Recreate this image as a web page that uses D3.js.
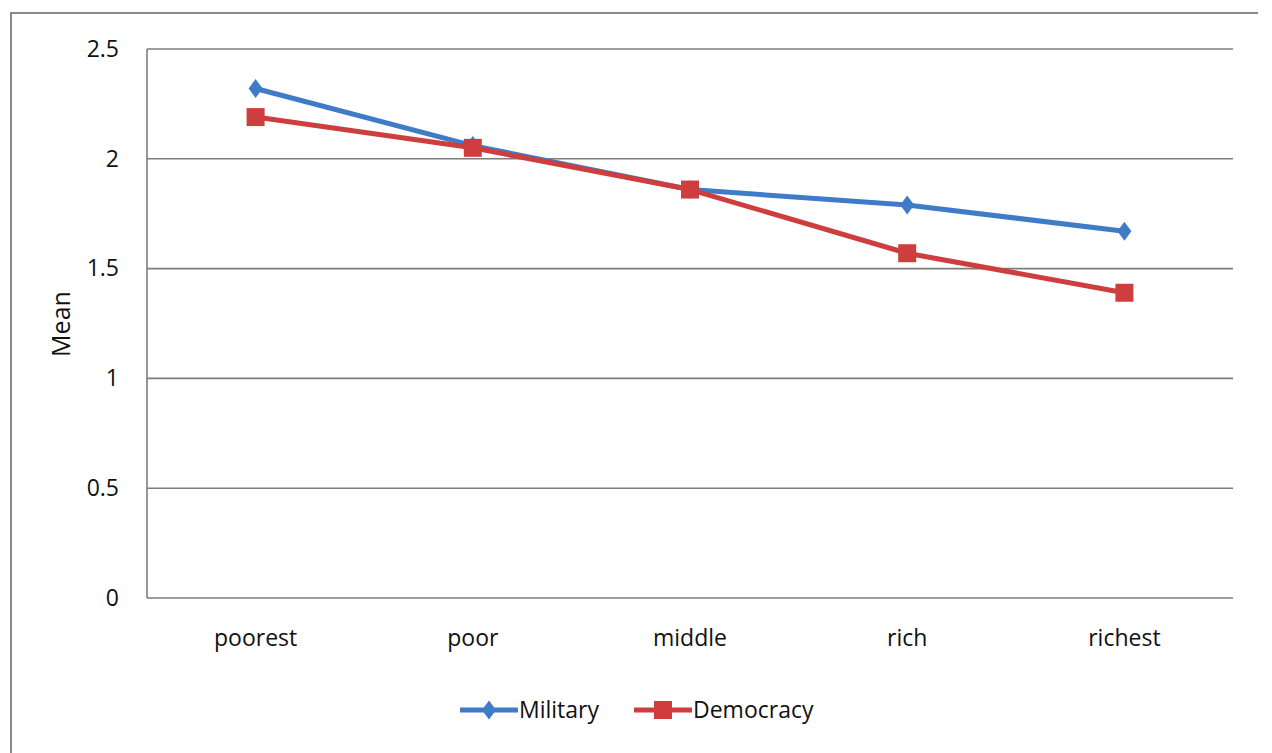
<!DOCTYPE html>
<html>
<head>
<meta charset="utf-8">
<script src="https://cdn.jsdelivr.net/npm/d3@7"></script>
<style>
  html, body { margin: 0; padding: 0; background: #fff; }
  svg { display: block; }
  text { font-family: "Open Sans", Lato, sans-serif; fill: #111; }
</style>
</head>
<body>
<svg id="chart" width="1272" height="753"></svg>
<script>
// Income groups along the x axis
const categories = ["poorest", "poor", "middle", "rich", "richest"];
// Mean score per income group
const militaryValues = [2.32, 2.06, 1.86, 1.79, 1.67];
const democracyValues = [2.19, 2.05, 1.86, 1.57, 1.39];
// Y axis ticks
const yTicks = [0, 0.5, 1, 1.5, 2, 2.5];
const seriesNames = ["Military", "Democracy"];

const series = [
  { name: seriesNames[0], values: militaryValues, color: "#3f7bc6", marker: "diamond" },
  { name: seriesNames[1], values: democracyValues, color: "#cf3e3e", marker: "square" }
];

const svg = d3.select("#chart");
const plot = { left: 147, right: 1233, top: 49, bottom: 598 };
const fontSize = "23px";

// Outer chart frame (top and left edges)
svg.append("path")
  .attr("d", "M11,753 L11,13 L1258,13")
  .attr("fill", "none")
  .attr("stroke", "#8a8a8a")
  .attr("stroke-width", 2);

const x = d3.scaleBand().domain(categories).range([plot.left, plot.right]);
const y = d3.scaleLinear().domain([0, 2.5]).range([plot.bottom, plot.top]);

// Horizontal gridlines
svg.append("g")
  .selectAll("line")
  .data(yTicks)
  .join("line")
  .attr("x1", plot.left).attr("x2", plot.right)
  .attr("y1", d => y(d)).attr("y2", d => y(d))
  .attr("stroke", "#7d7d7d")
  .attr("stroke-width", 1.6);

// Vertical axis line
svg.append("line")
  .attr("x1", plot.left).attr("x2", plot.left)
  .attr("y1", plot.top).attr("y2", plot.bottom)
  .attr("stroke", "#7d7d7d")
  .attr("stroke-width", 1.6);

// Y axis labels
const yAxis = d3.axisLeft(y).tickValues(yTicks).tickSize(0).tickPadding(28)
  .tickFormat(d => String(d));
const yg = svg.append("g").attr("transform", `translate(${plot.left},0)`).call(yAxis);
yg.select(".domain").remove();
yg.selectAll("text").style("font-size", fontSize).attr("fill", "#111");

// X axis labels
const xAxis = d3.axisBottom(x).tickSize(0).tickPadding(32);
const xg = svg.append("g").attr("transform", `translate(0,${plot.bottom})`).call(xAxis);
xg.select(".domain").remove();
xg.selectAll("text").style("font-size", fontSize).attr("fill", "#111");

// Y axis title
svg.append("text")
  .attr("transform", "translate(70,324) rotate(-90)")
  .attr("text-anchor", "middle")
  .style("font-size", "25px")
  .text("Mean");

const line = d3.line()
  .x((d, i) => x(categories[i]) + x.bandwidth() / 2)
  .y(d => y(d));

const diamond = "M0,-9.5 L7,0 L0,9.5 L-7,0 Z";
const square = "M-9,-9 L9,-9 L9,9 L-9,9 Z";

series.forEach(s => {
  const g = svg.append("g");
  g.append("path")
    .datum(s.values)
    .attr("d", line)
    .attr("fill", "none")
    .attr("stroke", s.color)
    .attr("stroke-width", 5)
    .attr("stroke-linejoin", "round");
  g.selectAll("path.mark")
    .data(s.values)
    .join("path")
    .attr("class", "mark")
    .attr("transform", (d, i) => `translate(${x(categories[i]) + x.bandwidth() / 2},${y(d)})`)
    .attr("d", s.marker === "diamond" ? diamond : square)
    .attr("fill", s.color);
});

// Legend
const legendItems = [
  { s: series[0], x0: 460 },
  { s: series[1], x0: 634 }
];
legendItems.forEach(({ s, x0 }) => {
  const ly = 710;
  const g = svg.append("g");
  g.append("line")
    .attr("x1", x0).attr("x2", x0 + 58)
    .attr("y1", ly).attr("y2", ly)
    .attr("stroke", s.color).attr("stroke-width", 5);
  g.append("path")
    .attr("transform", `translate(${x0 + 29},${ly})`)
    .attr("d", s.marker === "diamond" ? diamond : square)
    .attr("fill", s.color);
  g.append("text")
    .attr("x", x0 + 59).attr("y", ly + 8)
    .style("font-size", fontSize)
    .text(s.name);
});
</script>
</body>
</html>
